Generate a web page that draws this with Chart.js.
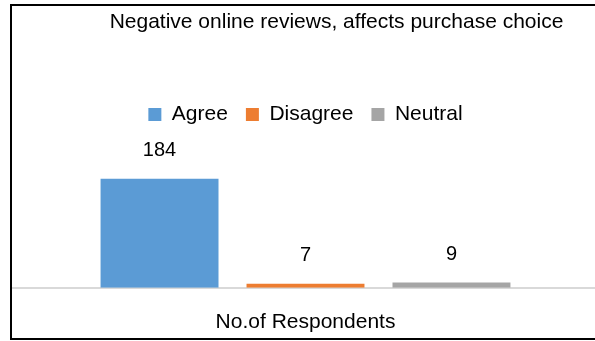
<!DOCTYPE html>
<html>
<head>
<meta charset="utf-8">
<script src="https://cdn.jsdelivr.net/npm/chart.js@4/dist/chart.umd.min.js"></script>
<style>
  html, body { margin: 0; padding: 0; background: #fff; overflow: hidden; width: 595px; height: 341px; }
  #frame {
    position: absolute; left: 10px; top: 4px;
    width: 620px; height: 332px;
    border: 2px solid #000; border-right: none;
  }
  #chart { display: block; }
</style>
</head>
<body>
<div id="frame">
  <canvas id="chart" width="600" height="332"></canvas>
</div>
<script>
const chartTitle = 'Negative online reviews, affects purchase choice';
const categories = ['No.of Respondents'];
const seriesNames = ['Agree', 'Disagree', 'Neutral'];
const seriesValues = [[184], [7], [9]];
const seriesColors = ['#5B9BD5', '#ED7D31', '#A5A5A5'];

const font = 'Liberation Sans, Arial, sans-serif';

// title sits right of centre in the original, so draw it by hand
const titlePlugin = {
  id: 'offTitle',
  afterDraw(chart) {
    const ctx = chart.ctx;
    ctx.save();
    ctx.font = '21px ' + font;
    ctx.fillStyle = '#000';
    ctx.textAlign = 'center';
    ctx.textBaseline = 'alphabetic';
    ctx.fillText(chartTitle, chart.chartArea.left + (chart.chartArea.right - chart.chartArea.left) / 2 + 31, 22);
    ctx.restore();
  }
};

const valueLabels = {
  id: 'valueLabels',
  afterDatasetsDraw(chart) {
    const ctx = chart.ctx;
    ctx.save();
    ctx.font = '20px ' + font;
    ctx.fillStyle = '#000';
    ctx.textAlign = 'center';
    ctx.textBaseline = 'middle';
    chart.data.datasets.forEach((ds, i) => {
      chart.getDatasetMeta(i).data.forEach((bar, j) => {
        ctx.fillText(ds.data[j], bar.x, bar.y - 28);
      });
    });
    ctx.restore();
  }
};

new Chart(document.getElementById('chart'), {
  type: 'bar',
  data: {
    labels: categories,
    datasets: seriesNames.map((name, i) => ({
      label: name,
      data: seriesValues[i],
      backgroundColor: seriesColors[i],
      borderWidth: 0,
      categoryPercentage: 0.746,
      barPercentage: 0.808
    }))
  },
  options: {
    responsive: false,
    animation: false,
    layout: { padding: { top: 80, right: 13, bottom: -19, left: 0 } },
    plugins: {
      title: { display: false },
      tooltip: { enabled: false },
      legend: {
        position: 'top',
        labels: {
          boxWidth: 13,
          boxHeight: 13,
          padding: 18,
          color: '#000',
          font: { family: font, size: 21 }
        }
      }
    },
    scales: {
      x: {
        grid: { display: true, drawOnChartArea: false, drawTicks: false },
        border: { display: true, color: '#d9d9d9', width: 2 },
        ticks: { color: '#000', padding: 22, font: { family: font, size: 21 } }
      },
      y: {
        display: false,
        min: 0,
        max: 258
      }
    }
  },
  plugins: [titlePlugin, valueLabels]
});
</script>
</body>
</html>
